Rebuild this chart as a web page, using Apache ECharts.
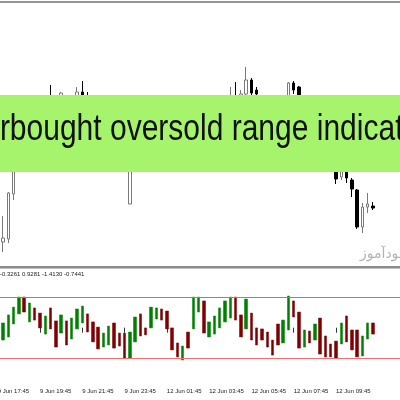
<!DOCTYPE html>
<html><head><meta charset="utf-8">
<script src="https://cdn.jsdelivr.net/npm/echarts@6/dist/echarts.min.js"></script>
<style>html,body{margin:0;padding:0;background:#fff}#c{width:400px;height:400px}</style>
</head><body><div id="c"></div>
<script>
const tickLabels = ['9 Jun 17:45','9 Jun 19:45','9 Jun 21:45','9 Jun 23:45','12 Jun 01:45','12 Jun 03:45','12 Jun 05:45','12 Jun 07:45','12 Jun 09:45'];
const bannerText = 'Overbought oversold range indicator';
const watermark = 'سودآموز';
const indicatorReadout = ['-0.3261','0.9281','-1.4130','-0.7441'];
const levels = [1.5, -1.5];

// price candles (points)
const candleOpen  = [20,28,31,76,135,160,150,165,158,155,168,164,160,170,160,168,178,170,165,155,140,130,135,120,112,66,140,148,142,146,156,160,155,150,138,130,136,132,155,164,156,160,163,166,170,172,171,176,190,180,172,165,160,150,158,170,187,183,172,166,160,164,140,128,112,93,105,90,80,43,63,64];
const candleClose = [25,32,77,135,160,150,165,158,155,168,164,158,177,160,168,178,170,165,155,140,130,135,120,112,103,140,148,142,146,156,160,155,150,138,130,136,132,155,164,156,160,163,166,170,172,171,176,190,177,176,165,160,150,158,168,187,180,172,166,160,164,140,128,115,91,105,92,81,43,63,66,62];
const candleLow   = [15,18,27,70,130,145,146,152,150,152,160,154,156,155,157,165,165,160,150,135,125,126,115,106,100,66,136,138,140,143,153,151,146,134,125,127,128,130,152,150,153,157,160,163,166,166,168,170,172,170,160,156,146,148,155,166,176,168,162,156,157,136,124,108,86,90,87,73,41,37,57,60];
const candleHigh  = [28,54,78,142,165,168,170,172,170,174,185,172,178,173,172,183,189,178,170,158,145,140,138,124,115,145,152,153,150,160,164,163,158,153,141,139,140,158,168,168,163,167,170,174,183,188,180,203,192,183,174,168,162,162,172,188,189,184,174,170,167,166,143,130,116,110,108,92,81,67,77,68];

// indicator histogram
const indHigh = [-0.11,0.23,0.62,1.00,1.49,1.49,1.20,0.96,0.71,0.57,0.96,0.33,0.62,0.33,0.47,0.91,1.05,0.67,0.28,0.03,-0.26,0.08,0.23,-0.26,-0.26,-0.21,0.52,0.67,-0.01,1.00,0.96,0.91,0.81,-0.01,-0.74,-0.89,-0.21,1.49,1.49,1.30,0.28,0.57,0.96,1.30,1.49,1.49,0.62,1.39,0.71,-0.01,-0.06,-0.21,-0.60,0.18,0.37,1.54,1.30,0.76,-0.11,-0.16,0.18,0.47,-0.40,-0.79,-0.65,0.23,0.57,-0.11,-0.11,-0.40,0.23,0.23];
const indLow  = [-0.84,-0.60,-0.45,0.18,0.67,0.76,0.28,0.37,-0.01,-0.31,-0.06,-0.94,-0.26,-0.84,-0.55,-0.06,0.23,-0.21,-0.69,-1.03,-0.94,-0.84,-0.99,-0.89,-1.47,-1.47,-0.69,-0.40,-0.35,-0.01,0.42,0.37,-0.06,-1.08,-1.42,-1.57,-0.99,-0.06,0.76,-0.26,-0.45,-0.31,-0.01,0.28,0.47,0.37,-0.45,-0.06,-0.60,-0.84,-0.60,-0.94,-1.33,-0.84,-0.74,-0.11,0.52,-0.99,-0.94,-0.74,-0.60,-1.28,-1.42,-1.42,-1.47,-0.79,-0.69,-1.08,-1.42,-1.37,-0.55,-0.31];
const indDir  = ['g','g','g','g','g','r','g','r','r','g','r','r','g','r','g','g','g','r','r','r','g','g','r','r','r','g','g','r','r','g','g','r','r','r','r','g','r','g','g','r','g','g','g','g','g','r','r','g','r','r','r','r','r','r','g','g','r','r','g','r','g','r','r','r','r','g','r','r','r','g','g','r'];

const N = 77;
const categories = [];
for (let i = 0; i < N; i++) {
  let day, m;
  if (i <= 24) { day = 9; m = 17*60+45 + i*15; } else { day = 12; m = (i-25)*15; }
  const hh = String(Math.floor(m/60)).padStart(2,'0'), mm = String(m%60).padStart(2,'0');
  categories.push(day + ' Jun ' + hh + ':' + mm);
}
const candleData = candleOpen.map((o,i)=>[o, candleClose[i], candleLow[i], candleHigh[i]]);
const indData = indHigh.map((h,i)=> indDir[i]==='g' ? [indLow[i], h, indLow[i], h] : [h, indLow[i], indLow[i], h]);

const BW = 5.286, L = -4.94;
const chart = echarts.init(document.getElementById('c'), null, {renderer:'canvas'});
chart.setOption({
  animation: false,
  backgroundColor: '#ffffff',
  grid: [
    {left: L, width: N*BW, top: 2, height: 264, containLabel:false, outerBoundsMode:'none'},
    {left: L, width: N*BW, top: 286.5, height: 82.4, containLabel:false, outerBoundsMode:'none'}
  ],
  xAxis: [
    {type:'category', gridIndex:0, data: categories, show:false},
    {type:'category', gridIndex:1, data: categories, offset: 18,
     axisLine:{show:false},
     axisTick:{show:true, alignWithLabel:true, interval:7, length:5, lineStyle:{color:'#333', width:1}},
     axisLabel:{show:true, interval:7, align:'left', margin:1, fontSize:6, fontFamily:'Liberation Sans', color:'#222',
       hideOverlap:false, showMinLabel:true, showMaxLabel:false,
       formatter:(v, idx)=> tickLabels[idx/8] !== undefined ? tickLabels[idx/8] : v}
    }
  ],
  yAxis: [
    {type:'value', gridIndex:0, min:4, max:268, show:false, splitLine:{show:false}},
    {type:'value', gridIndex:1, min:-2, max:2, show:false, splitLine:{show:false}}
  ],
  series: [
    {type:'candlestick', xAxisIndex:0, yAxisIndex:0, data: candleData, barWidth:3,
     itemStyle:{color:'#ffffff', borderColor:'#7a7a7a', color0:'#000000', borderColor0:'#000000', borderWidth:1}},
    {type:'candlestick', xAxisIndex:1, yAxisIndex:1, data: indData, barWidth:3,
     itemStyle:{color:'#008000', borderColor:'#008000', color0:'#800000', borderColor0:'#800000', borderWidth:0.5},
     markLine:{silent:true, symbol:['none','none'], label:{show:false},
       data:[{yAxis: levels[0], lineStyle:{color:'#5aaa5a', width:1, type:'solid'}},
             {yAxis: levels[1], lineStyle:{color:'#f07070', width:1, type:'solid'}}]}
    }
  ],
  graphic: [
    {type:'rect', z:50, shape:{x:0, y:1, width:400, height:2}, style:{fill:'#959595'}},
    {type:'rect', z:50, shape:{x:0, y:266, width:400, height:2.5}, style:{fill:'#8a8a8a'}},
    {type:'text', z:50, x:0, y:274, style:{text: indicatorReadout.join(' '), fontSize:6, fontFamily:'Liberation Sans', fill:'#222', align:'left', verticalAlign:'middle', textAlign:'left', textVerticalAlign:'middle'}},
    {type:'text', z:40, x:360, y:254, style:{text: watermark, fontSize:14, fontFamily:'DejaVu Sans', fill:'#b4b4b4', align:'left', verticalAlign:'middle', textAlign:'left', textVerticalAlign:'middle'}},
    {type:'rect', z:100, shape:{x:0, y:95, width:400, height:77}, style:{fill:'#a6f46c'}},
    {type:'text', z:101, x:187.5, y:130, scaleX:1, scaleY:1.22, style:{text: bannerText, fontSize:30, fontFamily:'Liberation Sans', fill:'#111', align:'center', verticalAlign:'middle', textAlign:'center', textVerticalAlign:'middle'}}
  ]
});
</script></body></html>
